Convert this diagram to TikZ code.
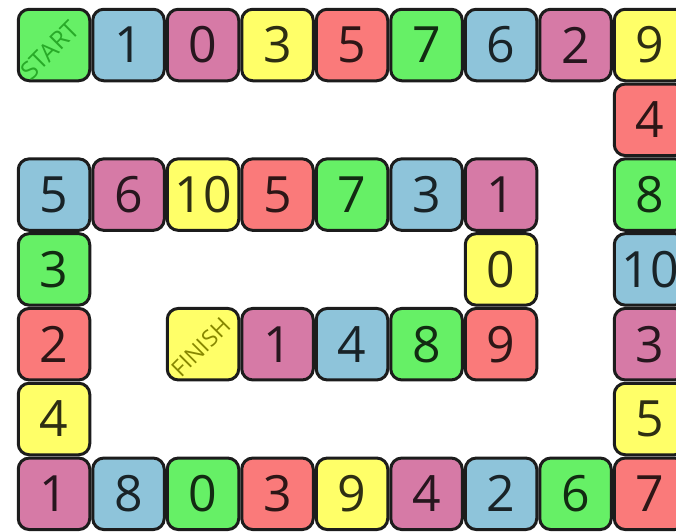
\documentclass[tikz,border=0pt]{standalone}
\usepackage{fontspec}
\setmainfont{Open Sans}
\usepackage{xcolor}
\usepackage{tikz}
\usetikzlibrary{positioning,calc}
\definecolor{boardGreen} {RGB}{102, 240, 102}
\definecolor{boardBlue}  {RGB}{142, 196, 218}
\definecolor{boardPink}  {RGB}{214, 122, 166}
\definecolor{boardYellow}{RGB}{255, 255, 104}
\definecolor{boardRed}   {RGB}{250, 122, 122}
\definecolor{boardEdge}  {RGB}{28,  28,  28}
\definecolor{startInk}   {RGB}{40,  170, 40}
\definecolor{finishInk}  {RGB}{135, 135, 0}

\begin{document}
\begin{tikzpicture}[x=1pt,y=-1pt,
    tile/.style={draw=boardEdge,line width=3pt,fill=#1,text=#1!18!black,
      rounded corners=11pt,minimum size=71.5pt,inner sep=0pt,
      font=\fontsize{50}{50}\selectfont},
    tag/.style={rotate=45,font=\fontsize{#1}{#1}\selectfont,inner sep=0pt}]
  \useasboundingbox (0,0) rectangle (676,531);
  \clip (0,0) rectangle (676,531);

  % casas do tabuleiro: valor/cor/coluna/linha
  \foreach \val/\col/\c/\r in {
      {}/boardGreen/0/0, 1/boardBlue/1/0, 0/boardPink/2/0, 3/boardYellow/3/0,
      5/boardRed/4/0, 7/boardGreen/5/0, 6/boardBlue/6/0, 2/boardPink/7/0,
      9/boardYellow/8/0,
      4/boardRed/8/1,
      5/boardBlue/0/2, 6/boardPink/1/2, 10/boardYellow/2/2, 5/boardRed/3/2,
      7/boardGreen/4/2, 3/boardBlue/5/2, 1/boardPink/6/2, 8/boardGreen/8/2,
      3/boardGreen/0/3, 0/boardYellow/6/3, 10/boardBlue/8/3,
      2/boardRed/0/4, {}/boardYellow/2/4, 1/boardPink/3/4, 4/boardBlue/4/4,
      8/boardGreen/5/4, 9/boardRed/6/4, 3/boardPink/8/4,
      4/boardYellow/0/5, 5/boardYellow/8/5,
      1/boardPink/0/6, 8/boardBlue/1/6, 0/boardGreen/2/6, 3/boardRed/3/6,
      9/boardYellow/4/6, 4/boardPink/5/6, 2/boardBlue/6/6, 6/boardGreen/7/6,
      7/boardRed/8/6}{
    \node[tile=\col] (t\r-\c) at (54+74.5*\c,45+74.8*\r) {\val};
  }

  % inicio e fim
  \node[tag=25,text=startInk] (start) at ($(t0-0)+(-4,5)$) {START};
  \node[tag=23,text=finishInk] (finish) at ($(t4-2)+(-2,3)$) {FINISH};
\end{tikzpicture}
\end{document}
